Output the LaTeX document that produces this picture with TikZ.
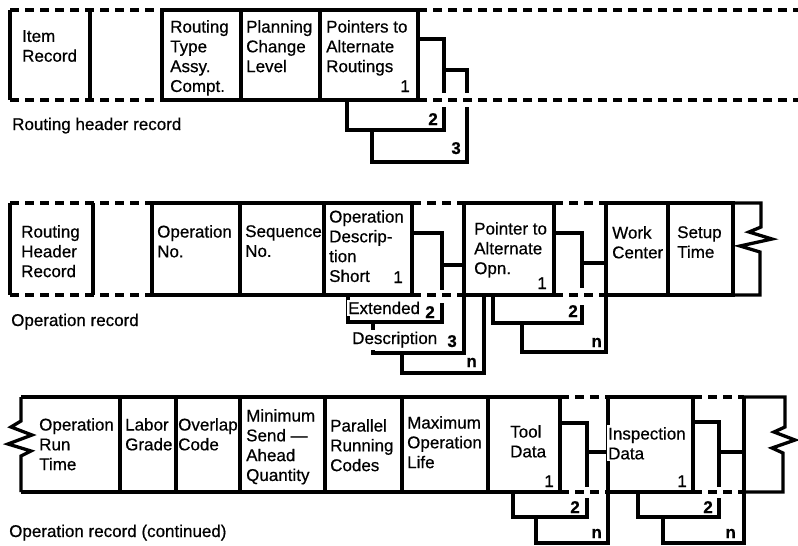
\documentclass[tikz,border=0pt]{standalone}
\usepackage{fontspec}
\setmainfont{Liberation Sans}[FakeBold=0.6]
\begin{document}
\begin{tikzpicture}[x=1pt,y=-1pt,
  solidline/.style={line width=3.3pt},
  dashline/.style={line width=3.3pt, dash pattern=on 9pt off 6pt},
  txt/.style={anchor=north west, inner sep=0pt, align=left, font=\fontsize{17}{19.8}\selectfont},
  caption/.style={anchor=base west, inner sep=0pt, font=\fontsize{17}{19.8}\selectfont},
  masked/.style={fill=white, inner xsep=1pt, inner ysep=2pt},
  idx/.style={anchor=base east, inner sep=0pt, font=\fontsize{17}{19.8}\selectfont},
  bidx/.style={anchor=base east, inner sep=0pt, font=\fontsize{17}{19.8}\selectfont\bfseries}
]
\useasboundingbox (0,0) rectangle (798,546);

% ---------------- Routing header record ----------------
\draw[dashline] (10,10) -- (162,10);
\draw[dashline] (10,100) -- (162,100);
\draw[dashline] (418,10) -- (798,10);
\draw[dashline] (418,100) -- (798,100);
\draw[solidline] (10,10) -- (10,100);
\draw[solidline] (90,10) -- (90,100);
\draw[solidline] (162,10) rectangle (418,100);
\draw[solidline] (241,10) -- (241,100);
\draw[solidline] (320,10) -- (320,100);
% chain of alternate routings
\draw[solidline] (418,39) -- (444,39) -- (444,93);
\draw[solidline] (444,70) -- (467,70) -- (467,93);
\draw[solidline] (347,100) -- (347,130) -- (444,130) -- (444,107);
\draw[solidline] (372,130) -- (372,162) -- (467,162) -- (467,107);

\node[txt] (item)  at (22,30)  {Item\\Record};
\node[txt] (rtype) at (170,20) {Routing\\Type\\Assy.\\Compt.};
\node[txt] (plan)  at (246,20) {Planning\\Change\\Level};
\node[txt] (ptrs)  at (326,20) {Pointers to\\Alternate\\Routings};
\node[idx]  (h1) at (410,92)  {1};
\node[bidx] (h2) at (438,125) {2};
\node[bidx] (h3) at (461,154) {3};
\node[caption] (hdr) at (12,130) {Routing header record};

% ---------------- Operation record ----------------
\draw[dashline] (10,203) -- (152,203);
\draw[dashline] (10,295) -- (152,295);
\draw[dashline] (412,203) -- (464,203);
\draw[dashline] (412,295) -- (464,295);
\draw[dashline] (554,203) -- (606,203);
\draw[dashline] (554,295) -- (606,295);
\draw[solidline] (10,203) -- (10,295);
\draw[solidline] (93,203) -- (93,295);
\draw[solidline] (152,203) rectangle (412,295);
\draw[solidline] (240,203) -- (240,295);
\draw[solidline] (324,203) -- (324,295);
\draw[solidline] (464,203) rectangle (554,295);
\draw[solidline] (606,203) rectangle (733,295);
\draw[solidline] (668,203) -- (668,295);
\draw[solidline] (733,203) -- (761,203) -- (761,227) -- (749,232) -- (772,239)
  -- (740,246) -- (760,252) -- (760,295) -- (733,295);
% description continuation chain
\draw[solidline] (412,233) -- (442,233) -- (442,290);
\draw[solidline] (442,265) -- (464,265);
\draw[solidline] (348,295) -- (348,322) -- (442,322) -- (442,303);
\draw[solidline] (373,322) -- (373,353) -- (464,353) -- (464,295);
\draw[solidline] (402,353) -- (402,373) -- (484,373) -- (484,295);
% alternate operation chain
\draw[solidline] (554,233) -- (582,233) -- (582,288);
\draw[solidline] (582,263) -- (606,263);
\draw[solidline] (493,295) -- (493,323) -- (582,323) -- (582,305);
\draw[solidline] (522,323) -- (522,352) -- (606,352) -- (606,295);

\node[txt] (rhr)    at (21,225)  {Routing\\Header\\Record};
\node[txt] (opno)   at (157,225) {Operation\\No.};
\node[txt] (seqno)  at (245,225) {Sequence\\No.};
\node[txt] (opdesc) at (329,210) {Operation\\Descrip-\\tion\\Short};
\node[idx] (o1) at (403,283) {1};
\node[txt] (altop)  at (474,222) {Pointer to\\Alternate\\Opn.};
\node[idx] (a1) at (547,289) {1};
\node[txt] (wc)     at (612,226) {Work\\Center};
\node[txt] (setup)  at (677,226) {Setup\\Time};
\node[caption, masked] (ext)  at (347,314) {Extended};
\node[bidx] (e2)    at (435,318) {2};
\node[caption, masked] (desc) at (351,344) {Description};
\node[bidx] (d3)    at (457,347) {3};
\node[bidx] (dn)    at (477,367) {n};
\node[bidx] (a2)    at (578,317) {2};
\node[bidx] (an)    at (602,347) {n};
\node[caption] (oprec) at (11,326) {Operation record};

% ---------------- Operation record (continued) ----------------
\draw[solidline] (21,397) -- (560,397);
\draw[solidline] (21,492) -- (560,492);
\draw[solidline] (21,397) -- (21,421) -- (11,427) -- (32,435) -- (8,444)
  -- (31,451) -- (21,456) -- (21,492);
\foreach \xx in {120,176,240,325,402,488,560}
  \draw[solidline] (\xx,397) -- (\xx,492);
\draw[dashline] (560,397) -- (608,397);
\draw[dashline] (560,492) -- (608,492);
\draw[dashline] (693,397) -- (744,397);
\draw[dashline] (693,492) -- (744,492);
\draw[solidline] (608,397) rectangle (693,492);
\draw[solidline] (744,397) -- (744,492);
\draw[solidline] (744,397) -- (785,397) -- (785,427) -- (774,432) -- (795,440)
  -- (772,448) -- (783,453) -- (783,492) -- (744,492);
% tool data chain
\draw[solidline] (560,423) -- (587,423) -- (587,487);
\draw[solidline] (587,452) -- (608,452);
\draw[solidline] (513,492) -- (513,517) -- (587,517) -- (587,498);
\draw[solidline] (536,517) -- (536,543) -- (608,543) -- (608,492);
% inspection data chain
\draw[solidline] (693,422) -- (719,422) -- (719,487);
\draw[solidline] (719,452) -- (744,452);
\draw[solidline] (638,492) -- (638,517) -- (719,517) -- (719,498);
\draw[solidline] (663,517) -- (663,543) -- (744,543) -- (744,492);

\node[txt] (runtime) at (39,418)  {Operation\\Run\\Time};
\node[txt] (labor)   at (125,418) {Labor\\Grade};
\node[txt] (overlap) at (178,418) {Overlap\\Code};
\node[txt] (minsend) at (246,409) {Minimum\\Send —\\Ahead\\Quantity};
\node[txt] (parallel) at (330,419) {Parallel\\Running\\Codes};
\node[txt] (maxlife) at (407,416) {Maximum\\Operation\\Life};
\node[txt] (tool)    at (510,425) {Tool\\Data};
\node[txt, masked]   (insp) at (607,425) {Inspection\\Data};
\node[idx]  (t1) at (554,487) {1};
\node[idx]  (i1) at (687,487) {1};
\node[bidx] (t2) at (580,513) {2};
\node[bidx] (tn) at (602,538) {n};
\node[bidx] (i2) at (713,513) {2};
\node[bidx] (in) at (736,538) {n};
\node[caption] (opcont) at (9,537) {Operation record (continued)};
\end{tikzpicture}
\end{document}
